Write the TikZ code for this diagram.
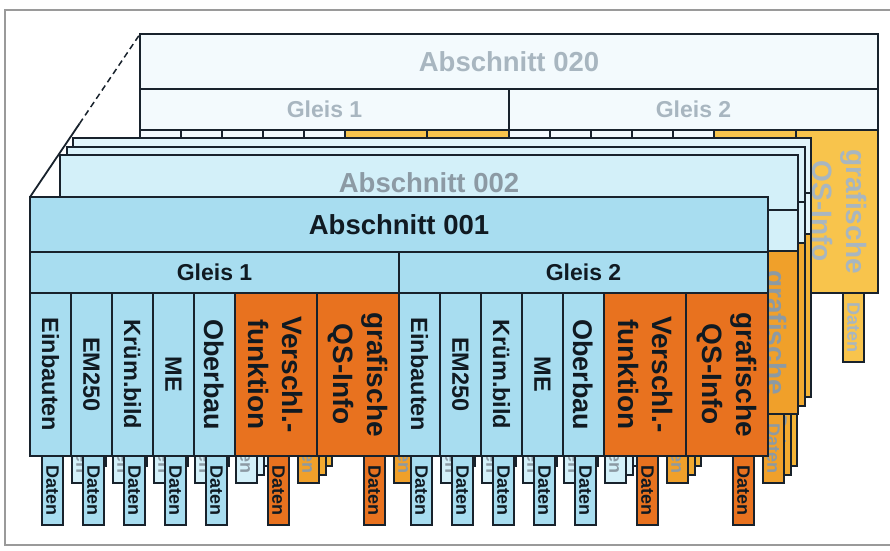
\documentclass[tikz,border=0pt]{standalone}
\usepackage{fontspec}
\setmainfont{Liberation Sans}
\usetikzlibrary{calc}
\definecolor{framegray}{HTML}{9A9A9A}
\definecolor{edge}{HTML}{18222C}
\definecolor{bA}{HTML}{A8DDF0}\definecolor{oA}{HTML}{E8721F}\definecolor{tA}{HTML}{101A22}
\definecolor{bB}{HTML}{D3F0F9}\definecolor{oB}{HTML}{F0A02A}\definecolor{tB}{HTML}{8C9AA4}
\definecolor{bC}{HTML}{DAF2FA}\definecolor{oC}{HTML}{F2AA30}
\definecolor{bD}{HTML}{E2F5FB}\definecolor{oD}{HTML}{F4B436}
\definecolor{bE}{HTML}{F3FAFD}\definecolor{oE}{HTML}{F8C44C}\definecolor{tE}{HTML}{A8B6C0}
\tikzset{
  cell/.style={draw=edge, line width=1.2pt, inner sep=0pt, outer sep=0pt, anchor=north west},
  coltext/.style={rotate=-90, align=center, inner sep=0pt},
  tabtext/.style={rotate=-90, inner sep=0pt},
}
% #1 id, #2 dx, #3 dy, #4 blue, #5 orange, #6 text colour, #7 title
\newcommand\drawlayer[7]{%
\begin{scope}[shift={(#2,#3)}]
  \colorlet{curblue}{#4}\colorlet{curorange}{#5}\colorlet{curtext}{#6}%
  \foreach \g in {0,1}{
    \foreach \cx/\cw/\kind/\tx/\txt/\fs in {0/41/curblue/12/Einbauten/23.5, 41/41/curblue/12/EM250/23.5, 82/41/curblue/12/Krüm.bild/23.5, 123/41/curblue/12/ME/23.5, 164/41/curblue/12/Oberbau/27, 205/82/curorange/33/{Verschl.-\\funktion}/28, 287/82/curorange/47/{grafische\\QS-Info}/28}{
      \node[cell, fill=\kind, minimum width=21pt, minimum height=69pt] (#1t\g-\cx) at (\g*369+\cx+\tx, 259) {};
      \node[tabtext, text=curtext, font=\fontsize{18}{20}\selectfont\bfseries] (#1tt\g-\cx) at (#1t\g-\cx.center) {Daten};
      \node[cell, fill=\kind, minimum width=\cw pt, minimum height=163pt] (#1c\g-\cx) at (\g*369+\cx, 96) {};
      \node[coltext, text=curtext, font=\fontsize{\fs}{34}\selectfont\bfseries] (#1ct\g-\cx) at (#1c\g-\cx.center) {\txt};
    }
  }
  \node[cell, fill=curblue, minimum width=369pt, minimum height=41pt] (#1g1) at (0,55) {};
  \node[cell, fill=curblue, minimum width=369pt, minimum height=41pt] (#1g2) at (369,55) {};
  \node[text=curtext, font=\fontsize{23}{26}\selectfont\bfseries] (#1g1t) at (#1g1.center) {Gleis 1};
  \node[text=curtext, font=\fontsize{23}{26}\selectfont\bfseries] (#1g2t) at (#1g2.center) {Gleis 2};
  \node[cell, fill=curblue, minimum width=738pt, minimum height=55pt] (#1h) at (0,0) {};
  \node[text=curtext, font=\fontsize{27.5}{30}\selectfont\bfseries] (#1ht) at (#1h.center) {#7};
\end{scope}}
\begin{document}
\begin{tikzpicture}[x=1pt, y=-1pt]
  \useasboundingbox (0,0) rectangle (890,550);
  \fill[white] (0,0) rectangle (890,550);
  \draw[framegray, line width=2pt] (890,10) -- (5,10) -- (5,545) -- (890,545);
  \drawlayer{L20}{140}{34}{bE}{oE}{tE}{Abschnitt 020}
  \drawlayer{L4}{73}{138}{bD}{oD}{tB}{Abschnitt 004}
  \drawlayer{L3}{67}{147}{bC}{oC}{tB}{Abschnitt 003}
  \drawlayer{L2}{60}{155}{bB}{oB}{tB}{Abschnitt 002}
  \drawlayer{L1}{30}{197}{bA}{oA}{tA}{Abschnitt 001}
  \coordinate (mid) at ($(L1h.north west)!0.45!(L20h.north west)$);
  \draw[edge, line width=1.8pt] (L1h.north west) -- (mid);
  \draw[edge, line width=1.5pt, dash pattern=on 6pt off 4pt] (mid) -- (L20h.north west);
\end{tikzpicture}
\end{document}
